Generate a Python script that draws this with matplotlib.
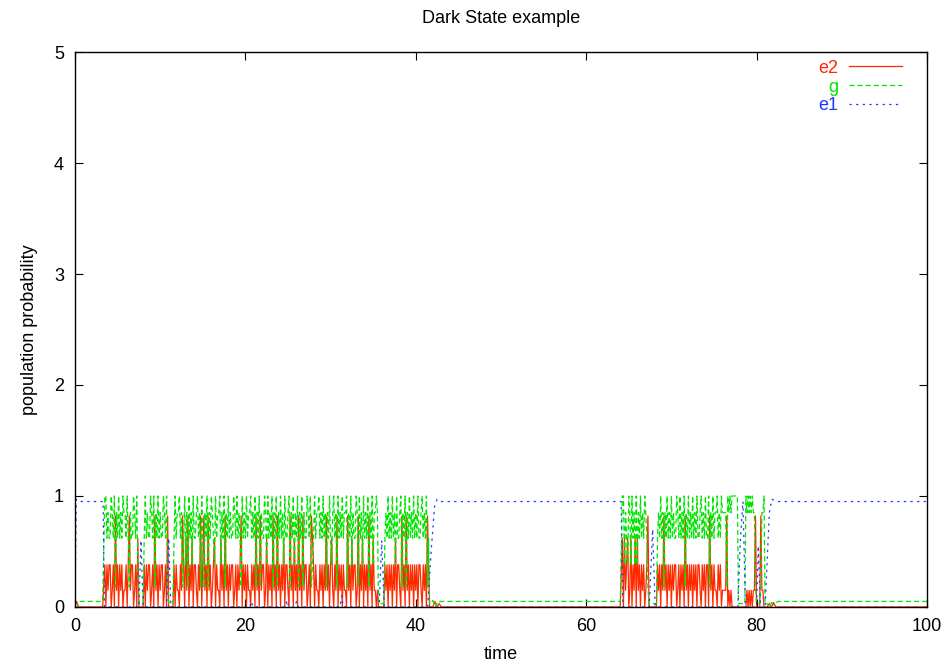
import numpy as np
import matplotlib
matplotlib.use("Agg")
import matplotlib.pyplot as plt

plt.rcParams['font.family'] = ['Liberation Sans', 'DejaVu Sans']

# sampling step of the bright (fluorescing) bursts
dt = 0.125

# level tables for the coded bursts
red_levels = [0.0, 0.15, 0.38, 0.62, 0.82]
green_levels = [1.0, 0.85, 0.62, 0.38, 0.18, 0.03]

# burst 1 starts at t=3.5, burst 2 at t=64.25
burst1_start = 3.5
burst2_start = 64.25

red_burst1 = ("2021220120412021" "2011202412201203" "0000020212201204"
              "1202122012040000" "0202110214203140" "2130221021402412"
              "0412012302110312" "0412021220120212" "4021202110212041"
              "2041220130212041" "2041202130221041" "2031204120412201"
              "2043202110212021" "4120231021402120" "2110412031220140"
              "2130212041203110" "1000000212021202" "1302210412041202"
              "1202120221021204" "200")
green_burst1 = ("0021220120412021" "2011202412201203" "5555520212201204"
                "1202122012045555" "5202110214203140" "2130221021402412"
                "0412012302110312" "0412021220120212" "4021202110212041"
                "2041220130212041" "2041202130221041" "2031204120412201"
                "2043202110212021" "4120231021402120" "2110412031220140"
                "2130212041203110" "1555555212021202" "1302210412041202"
                "1202120221021204" "255")
red_burst2 = ("3031230130213031" "2021201240000000" "0212021412021202"
              "1220120212041202" "1202120221021202" "2041202110212011"
              "1140101000000000" "0000010101011400" "004110000")
green_burst2 = ("0031230130213031" "2021201245555555" "5212021412021202"
                "1220120212041202" "1202120221021202" "2041202110212011"
                "1140101000000555" "5555010101011455" "554110555")

# quiet (dark state) stretches
red_q0_t = [0.0, 0.2, 0.4, 0.6, 3.25]
red_q0_v = [0.0, 0.05, 0.0, 0.0, 0.0]
red_q1_t = [42.0, 42.25, 42.5, 42.75, 43.0, 64.0]
red_q1_v = [0.0, 0.05, 0.0, 0.03, 0.0, 0.0]
red_q2_t = [81.5, 81.75, 82.0, 82.25, 82.5, 100.0]
red_q2_v = [0.03, 0.0, 0.04, 0.0, 0.0, 0.0]

green_q0_t = [0.0, 0.3, 0.6, 1.0, 3.25]
green_q0_v = [0.0, 0.0, 0.05, 0.05, 0.05]
green_q1_t = [42.0, 42.3, 42.6, 43.0, 64.0]
green_q1_v = [0.06, 0.0, 0.05, 0.05, 0.05]
green_q2_t = [81.5, 81.75, 82.0, 82.5, 100.0]
green_q2_v = [0.0, 0.04, 0.02, 0.05, 0.05]

blue_t = [0.0, 0.15, 0.6, 3.3, 3.45,
          7.5, 7.75, 8.0, 10.75, 11.0, 11.25,
          20.5, 20.7, 20.9, 24.7, 24.9, 25.1, 25.8, 26.0, 26.2,
          31.1, 31.3, 31.5, 35.7, 36.0, 36.3,
          41.4, 41.8, 42.2, 42.5, 43.0,
          64.1, 64.3, 67.4, 67.8, 68.1,
          77.8, 78.1, 78.4, 78.7, 80.0, 80.2, 80.45,
          81.0, 81.5, 81.8, 82.4, 100.0]
blue_v = [0.0, 0.97, 0.95, 0.95, 0.0,
          0.0, 0.6, 0.0, 0.0, 0.62, 0.0,
          0.0, 0.05, 0.0, 0.0, 0.06, 0.0, 0.0, 0.05, 0.0,
          0.0, 0.1, 0.0, 0.0, 0.6, 0.0,
          0.0, 0.5, 0.9, 0.97, 0.95,
          0.95, 0.0, 0.0, 0.7, 0.0,
          0.0, 0.6, 0.95, 0.0, 0.0, 0.55, 0.0,
          0.0, 0.85, 0.97, 0.95, 0.95]


def build(q0, b1, q1, b2, q2, levels):
    t_parts, v_parts = [q0[0]], [q0[1]]
    for start, codes, q in ((burst1_start, b1, q1), (burst2_start, b2, q2)):
        t_parts.append(start + dt * np.arange(len(codes)))
        v_parts.append([levels[int(c)] for c in codes])
        t_parts.append(q[0])
        v_parts.append(q[1])
    return np.concatenate(t_parts), np.concatenate(v_parts)


red_t, red_v = build((red_q0_t, red_q0_v), red_burst1, (red_q1_t, red_q1_v),
                     red_burst2, (red_q2_t, red_q2_v), red_levels)
green_t, green_v = build((green_q0_t, green_q0_v), green_burst1, (green_q1_t, green_q1_v),
                         green_burst2, (green_q2_t, green_q2_v), green_levels)

fig = plt.figure(figsize=(9.48, 6.67), dpi=100)
ax = fig.add_axes([0.0791, 0.09, 0.8987, 0.832])

ax.plot(red_t, red_v, color='#ff2a00', lw=0.9, label='e2')
ax.plot(green_t, green_v, color='#00e600', lw=0.9, dashes=(4, 2.5), label='g')
ax.plot(blue_t, blue_v, color='#1a3cff', lw=0.9, dashes=(1.8, 3.5), label='e1')

ax.set_xlim(0, 100)
ax.set_ylim(0, 5)
ax.set_xticks(np.arange(0, 101, 20))
ax.set_yticks(np.arange(0, 6, 1))
ax.tick_params(direction='in', top=True, right=True, length=6, width=0.8,
               labelsize=13, pad=8)
for s in ax.spines.values():
    s.set_linewidth(1.0)

ax.set_title('Dark State example', fontsize=13, pad=21)
ax.set_xlabel('time', fontsize=13, labelpad=8)
ax.set_ylabel('population probability', fontsize=13, labelpad=11)

ax.legend(loc='upper right', frameon=False, markerfirst=False, labelcolor='linecolor',
          fontsize=13, handlelength=2.9, handletextpad=0.6, labelspacing=0.1,
          borderaxespad=0.0, bbox_to_anchor=(0.979, 0.999))

fig.savefig('out.png', dpi=100)
